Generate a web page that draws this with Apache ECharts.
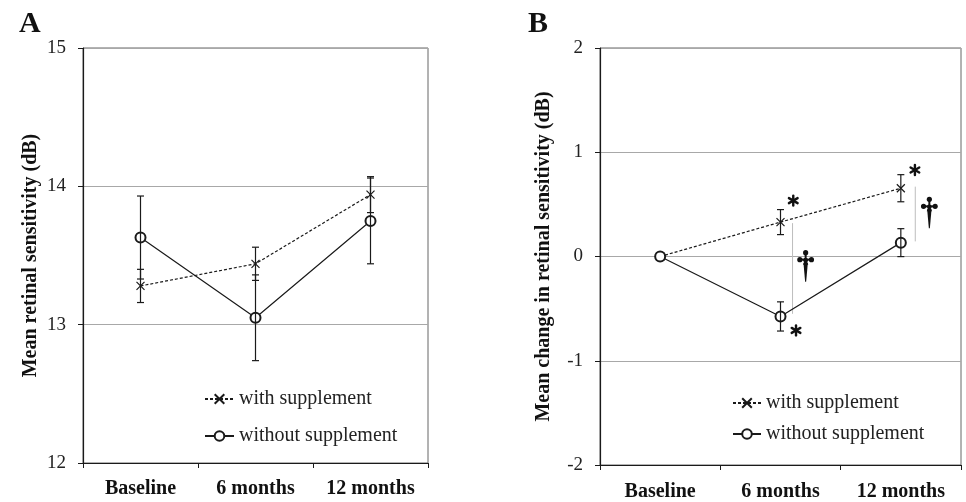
<!DOCTYPE html>
<html><head><meta charset="utf-8">
<script src="https://cdn.jsdelivr.net/npm/echarts@6/dist/echarts.min.js"></script>
<style>html,body{margin:0;padding:0;background:#fff}#c{width:966px;height:502px}</style>
</head><body><div id="c"></div>
<script>
const categories = ['Baseline', '6 months', '12 months'];
const seriesNames = ['with supplement', 'without supplement'];
// Panel A: mean retinal sensitivity (dB)
const aWith = [13.28, 13.44, 13.94];
const aWithErr = [0.12, 0.12, 0.13];
const aWithout = [13.63, 13.05, 13.75];
const aWithoutErr = [0.30, 0.31, 0.31];
const aTicks = [12, 13, 14, 15];
// Panel B: mean change in retinal sensitivity (dB)
const bWith = [0, 0.33, 0.655];
const bWithErr = [0, 0.12, 0.13];
const bWithout = [0, -0.575, 0.133];
const bWithoutErr = [0, 0.14, 0.134];
const bTicks = [-2, -1, 0, 1, 2];
// Panel B significance annotations (x in category units: 0..3)
const bStars = [[1.606, 0.536], [1.629, -0.709], [2.617, 0.83]];
const bDaggers = [[1.709, -0.03], [2.737, 0.481]];
const bSigLines = [[1.60, 0.32, -0.55], [2.62, 0.67, 0.145]];

const FONT = 'Liberation Serif';
const INK = '#1a1a1a';
const xPath = 'path://M0,0L10,10M10,0L0,10';

function errData(means, errs) {
  const out = [];
  means.forEach((m, i) => { if (errs[i] > 0) out.push([i, m - errs[i], m + errs[i]]); });
  return out;
}
function errRender(params, api) {
  const x = api.value(0);
  const lo = api.coord([x, api.value(1)]);
  const hi = api.coord([x, api.value(2)]);
  const w = 3.5;
  const st = { stroke: INK, lineWidth: 1.2 };
  return { type: 'group', children: [
    { type: 'line', shape: { x1: lo[0], y1: lo[1], x2: hi[0], y2: hi[1] }, style: st },
    { type: 'line', shape: { x1: hi[0] - w, y1: hi[1], x2: hi[0] + w, y2: hi[1] }, style: st },
    { type: 'line', shape: { x1: lo[0] - w, y1: lo[1], x2: lo[0] + w, y2: lo[1] }, style: st }
  ]};
}
function sigLineRender(params, api) {
  const a = api.coord([api.value(0), api.value(1)]);
  const b = api.coord([api.value(0), api.value(2)]);
  return { type: 'line', shape: { x1: a[0], y1: a[1], x2: b[0], y2: b[1] }, style: { stroke: '#bdbdbd', lineWidth: 1 } };
}
function starRender(params, api) {
  const c = api.coord([api.value(0), api.value(1)]);
  const r = 5;
  const kids = [0, 60, 120].map(function (deg) {
    const t = deg * Math.PI / 180;
    const dx = Math.sin(t) * r, dy = Math.cos(t) * r;
    return { type: 'line', shape: { x1: c[0] - dx, y1: c[1] - dy, x2: c[0] + dx, y2: c[1] + dy },
      style: { stroke: '#111', lineWidth: 2.4, lineCap: 'round' } };
  });
  kids.push({ type: 'circle', shape: { cx: c[0], cy: c[1], r: 1.6 }, style: { fill: '#111' } });
  return { type: 'group', children: kids };
}
function daggerRender(params, api) {
  const c = api.coord([api.value(0), api.value(1)]);
  const x = c[0], y = c[1];
  const f = { fill: '#111' };
  return { type: 'group', children: [
    { type: 'circle', shape: { cx: x, cy: y - 7, r: 2.6 }, style: f },
    { type: 'circle', shape: { cx: x - 5.8, cy: y, r: 2.6 }, style: f },
    { type: 'circle', shape: { cx: x + 5.8, cy: y, r: 2.6 }, style: f },
    { type: 'circle', shape: { cx: x, cy: y + 0.5, r: 2.4 }, style: f },
    { type: 'rect', shape: { x: x - 5.8, y: y - 1, width: 11.6, height: 2 }, style: f },
    { type: 'rect', shape: { x: x - 1, y: y - 7, width: 2, height: 8 }, style: f },
    { type: 'polygon', shape: { points: [[x - 2.2, y + 3], [x + 2.2, y + 3], [x + 0.5, y + 22], [x - 0.5, y + 22]] }, style: f },
    { type: 'polygon', shape: { points: [[x - 1, y + 1], [x + 1, y + 1], [x + 2.6, y + 5], [x - 2.6, y + 5]] }, style: f }
  ]};
}

function yAxisCfg(grid, ticks, name, gap, margin) {
  return {
    type: 'value', gridIndex: grid, min: ticks[0], max: ticks[ticks.length - 1], interval: 1,
    name: name, nameLocation: 'middle', nameGap: gap,
    nameTextStyle: { fontFamily: FONT, fontWeight: 'bold', fontSize: 20, color: '#111' },
    axisLine: { show: true, onZero: false, lineStyle: { color: INK, width: 1.2 } },
    axisTick: { show: true, length: 5, lineStyle: { color: INK } },
    axisLabel: { fontFamily: FONT, fontSize: 19, color: '#222', margin: margin },
    splitLine: { show: true, lineStyle: { color: '#a8a8a8', width: 1.2 } }
  };
}
function xAxisCfg(grid, margin) {
  return {
    type: 'category', gridIndex: grid, data: categories, boundaryGap: true,
    axisLine: { show: true, onZero: false, lineStyle: { color: INK, width: 1.2 } },
    axisTick: { show: true, length: 5, lineStyle: { color: INK } },
    axisLabel: { fontFamily: FONT, fontWeight: 'bold', fontSize: 20, color: '#111', margin: margin },
    splitLine: { show: false }
  };
}
function lineSeries(name, xi, yi, data, dashed) {
  return {
    name: name, type: 'line', xAxisIndex: xi, yAxisIndex: yi, data: data, z: 3,
    symbol: dashed ? xPath : 'emptyCircle', symbolSize: dashed ? 8 : 10,
    lineStyle: { color: INK, width: 1.2, type: dashed ? [3, 2] : 'solid' },
    itemStyle: { color: INK, borderColor: INK, borderWidth: 1.2 },
    emphasis: { disabled: true }, animation: false
  };
}
function errSeries(xi, yi, data) {
  return { type: 'custom', xAxisIndex: xi, yAxisIndex: yi, data: data, renderItem: errRender, z: 4, silent: true, animation: false };
}

const chart = echarts.init(document.getElementById('c'));
chart.setOption({
  backgroundColor: '#fff',
  animation: false,
  title: [
    { text: 'A', left: 14, top: 4, textStyle: { fontFamily: FONT, fontWeight: 'bold', fontSize: 30, color: '#111' } },
    { text: 'B', left: 523, top: 4, textStyle: { fontFamily: FONT, fontWeight: 'bold', fontSize: 30, color: '#111' } }
  ],
  grid: [
    { left: 83, right: 538, top: 48, bottom: 39, show: true, borderColor: '#666', borderWidth: 1 },
    { left: 600, right: 5, top: 48, bottom: 34, show: true, borderColor: '#666', borderWidth: 1 }
  ],
  legend: [
    { data: seriesNames, orient: 'vertical', left: 199, top: 384, itemWidth: 29, itemHeight: 12, itemGap: 17,
      textStyle: { fontFamily: FONT, fontSize: 20, color: '#222' }, selectedMode: false },
    { data: seriesNames, orient: 'vertical', left: 727, top: 388, itemWidth: 28, itemHeight: 12, itemGap: 11,
      textStyle: { fontFamily: FONT, fontSize: 20, color: '#222' }, selectedMode: false }
  ],
  xAxis: [
    xAxisCfg(0, 16), xAxisCfg(1, 17),
    { type: 'value', gridIndex: 1, min: 0, max: 3, show: false, splitLine: { show: false } }
  ],
  yAxis: [
    yAxisCfg(0, aTicks, 'Mean retinal sensitivity (dB)', 42, 17),
    yAxisCfg(1, bTicks, 'Mean change in retinal sensitivity (dB)', 46, 17)
  ],
  series: [
    lineSeries(seriesNames[0], 0, 0, aWith, true),
    lineSeries(seriesNames[1], 0, 0, aWithout, false),
    errSeries(0, 0, errData(aWith, aWithErr)),
    errSeries(0, 0, errData(aWithout, aWithoutErr)),
    lineSeries(seriesNames[0], 1, 1, bWith, true),
    lineSeries(seriesNames[1], 1, 1, bWithout, false),
    errSeries(1, 1, errData(bWith, bWithErr)),
    errSeries(1, 1, errData(bWithout, bWithoutErr)),
    { type: 'custom', xAxisIndex: 2, yAxisIndex: 1, data: bSigLines, renderItem: sigLineRender, z: 2, silent: true },
    { type: 'custom', xAxisIndex: 2, yAxisIndex: 1, data: bStars, renderItem: starRender, z: 5, silent: true },
    { type: 'custom', xAxisIndex: 2, yAxisIndex: 1, data: bDaggers, renderItem: daggerRender, z: 5, silent: true }
  ]
});
</script>
</body></html>
